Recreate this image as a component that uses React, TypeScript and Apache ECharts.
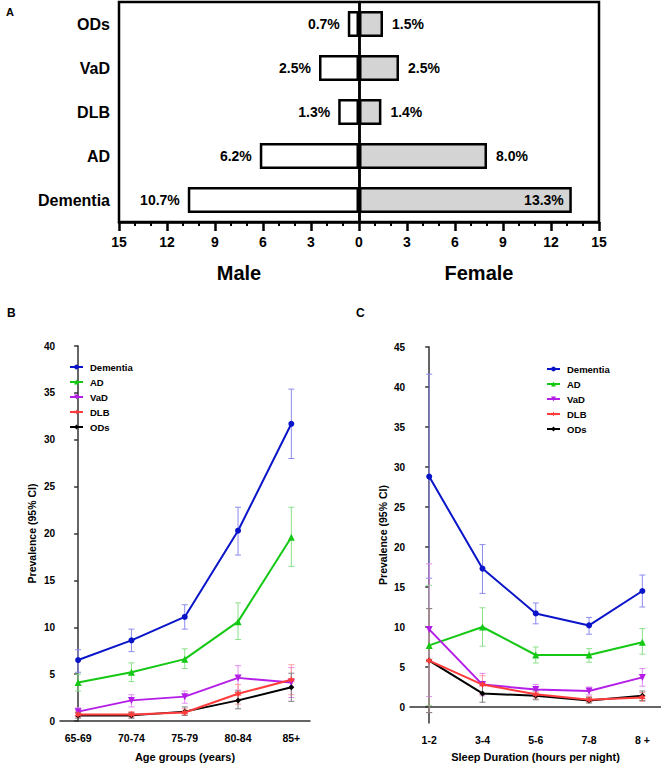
import React, { useEffect, useRef } from "react";
import * as echarts from "echarts";

// Panel A
const aCategories = ["Dementia", "AD", "DLB", "VaD", "ODs"];
const aMale = [10.7, 6.2, 1.3, 2.5, 0.7];
const aFemale = [13.3, 8.0, 1.4, 2.5, 1.5];

// Panel B
const bCategories = ["65-69", "70-74", "75-79", "80-84", "85+"];
const bDementia = [6.5, 8.6, 11.1, 20.3, 31.7];
const bDementiaLo = [5.2, 7.4, 9.8, 17.7, 28.0];
const bDementiaHi = [7.6, 9.8, 12.4, 22.8, 35.4];
const bAD = [4.1, 5.2, 6.6, 10.6, 19.6];
const bADLo = [3.2, 4.2, 5.6, 8.7, 16.5];
const bADHi = [5.0, 6.2, 7.7, 12.6, 22.8];
const bVaD = [1.0, 2.2, 2.6, 4.6, 4.1];
const bVaDLo = [0.5, 1.5, 1.9, 3.3, 2.5];
const bVaDHi = [1.4, 2.8, 3.2, 5.9, 5.7];
const bDLB = [0.7, 0.7, 0.9, 2.9, 4.4];
const bDLBLo = [0.4, 0.4, 0.6, 1.8, 2.8];
const bDLBHi = [1.0, 1.0, 1.3, 3.9, 6.0];
const bODs = [0.6, 0.6, 1.0, 2.2, 3.6];
const bODsLo = [0.3, 0.3, 0.6, 1.3, 2.1];
const bODsHi = [0.9, 0.9, 1.5, 3.2, 5.1];

// Panel C
const cCategories = ["1-2", "3-4", "5-6", "7-8", "8 +"];
const cDementia = [28.8, 17.3, 11.7, 10.2, 14.5];
const cDementiaLo = [16.1, 14.2, 10.4, 9.1, 12.5];
const cDementiaHi = [41.6, 20.3, 13.0, 11.2, 16.5];
const cAD = [7.7, 10.0, 6.5, 6.5, 8.1];
const cADLo = [0.2, 7.6, 5.5, 5.6, 6.6];
const cADHi = [15.2, 12.4, 7.5, 7.3, 9.8];
const cVaD = [9.7, 2.8, 2.2, 2.0, 3.7];
const cVaDLo = [1.3, 1.4, 1.6, 1.5, 2.6];
const cVaDHi = [17.9, 4.2, 2.8, 2.5, 4.8];
const cDLB = [5.8, 2.8, 1.6, 0.9, 1.2];
const cDLBLo = [-0.7, 1.6, 1.1, 0.6, 0.7];
const cDLBHi = [12.3, 3.9, 2.1, 1.3, 1.8];
const cODs = [5.8, 1.7, 1.4, 0.8, 1.4];
const cODsLo = [-0.7, 0.6, 0.9, 0.5, 0.8];
const cODsHi = [12.3, 2.8, 2.0, 1.2, 2.0];

const seriesNames = ["Dementia", "AD", "VaD", "DLB", "ODs"];
const lineColors = ["#0a14c8", "#14c814", "#b41ee6", "#ff3c3c", "#000000"];
const barColors = ["#8c8cf0", "#8ce08c", "#e08cf0", "#ff9c9c", "#808080"];

const FONT = "'Liberation Sans', Arial, Helvetica, sans-serif";

const STAR =
  "path://M0,-10 L2.6,-4.5 L8.7,-5 L5.2,0 L8.7,5 L2.6,4.5 L0,10 L-2.6,4.5 L-8.7,5 L-5.2,0 L-8.7,-5 L-2.6,-4.5 Z";
const symbols = ["circle", "triangle", "triangle", STAR, "diamond"];
const symbolSizes = [6, 7, 7, 7, 6];
const symbolRotates = [0, 0, 180, 0, 0];

export default function App() {
  const ref = useRef<HTMLDivElement>(null);

  useEffect(() => {
    if (!ref.current) return;
    const chart = echarts.init(ref.current, null, { renderer: "svg" });

    const bData = [
      [bDementia, bDementiaLo, bDementiaHi],
      [bAD, bADLo, bADHi],
      [bVaD, bVaDLo, bVaDHi],
      [bDLB, bDLBLo, bDLBHi],
      [bODs, bODsLo, bODsHi],
    ];
    const cData = [
      [cDementia, cDementiaLo, cDementiaHi],
      [cAD, cADLo, cADHi],
      [cVaD, cVaDLo, cVaDHi],
      [cDLB, cDLBLo, cDLBHi],
      [cODs, cODsLo, cODsHi],
    ];

    const errSeries = (panel: any[][], axisIdx: number) =>
      panel.map((d, i) => ({
        type: "custom",
        xAxisIndex: axisIdx,
        yAxisIndex: axisIdx,
        silent: true,
        z: 1,
        data: d[0].map((_: number, k: number) => [k, d[1][k], d[2][k]]),
        encode: { x: 0, y: [1, 2] },
        renderItem: (params: any, api: any) => {
          const x = api.value(0);
          const pHi = api.coord([x, api.value(2)]);
          const pLo = api.coord([x, api.value(1)]);
          const w = 3;
          const st = { stroke: barColors[i], lineWidth: 1 };
          return {
            type: "group",
            children: [
              { type: "line", shape: { x1: pHi[0], y1: pHi[1], x2: pLo[0], y2: pLo[1] }, style: st },
              { type: "line", shape: { x1: pHi[0] - w, y1: pHi[1], x2: pHi[0] + w, y2: pHi[1] }, style: st },
              { type: "line", shape: { x1: pLo[0] - w, y1: pLo[1], x2: pLo[0] + w, y2: pLo[1] }, style: st },
            ],
          };
        },
      }));

    const lineSeries = (panel: any[][], axisIdx: number) =>
      panel.map((d, i) => ({
        type: "line",
        name: seriesNames[i],
        xAxisIndex: axisIdx,
        yAxisIndex: axisIdx,
        z: 3 + (i === 3 ? 1 : 0),
        data: d[0].map((v: number, k: number) => [k, v]),
        symbol: symbols[i],
        symbolSize: symbolSizes[i],
        symbolRotate: symbolRotates[i],
        lineStyle: { color: lineColors[i], width: 2 },
        itemStyle: { color: lineColors[i] },
      }));

    const lineAxisCommon = {
      axisLine: { show: true, lineStyle: { color: "#333", width: 1.5 } },
      splitLine: { show: false },
    };

    const legendCommon = {
      orient: "vertical",
      itemWidth: 13,
      itemHeight: 6,
      itemGap: 5,
      data: seriesNames,
      textStyle: { fontSize: 9.5, fontWeight: "bold", color: "#000", padding: [0, 0, 0, 2] },
      selectedMode: false,
    };

    const option: any = {
      animation: false,
      textStyle: { fontFamily: FONT },
      grid: [
        { left: 119, top: 2, width: 480, height: 220, show: true, borderColor: "#000", borderWidth: 2.5 },
        { left: 60, top: 346, width: 250, height: 384 },
        { left: 410, top: 347, width: 251, height: 386 },
      ],
      xAxis: [
        {
          gridIndex: 0,
          type: "value",
          min: -15,
          max: 15,
          interval: 3,
          axisLine: { show: true, onZero: false, lineStyle: { color: "#000", width: 2.5 } },
          axisTick: { show: true, length: 9, lineStyle: { color: "#000", width: 2.5 } },
          minorTick: { show: true, splitNumber: 3, length: 4, lineStyle: { color: "#000", width: 2 } },
          splitLine: { show: false },
          minorSplitLine: { show: false },
          axisLabel: {
            formatter: (v: number) => String(Math.abs(v)),
            fontSize: 14,
            fontWeight: "bold",
            color: "#000",
            margin: 13,
          },
        },
        {
          gridIndex: 1,
          type: "value",
          min: -0.34,
          max: 4.35,
          ...lineAxisCommon,
          axisTick: { show: false },
          axisLabel: {
            customValues: [0, 1, 2, 3, 4],
            formatter: (v: number) => bCategories[Math.round(v)],
            fontSize: 10.5,
            fontWeight: "bold",
            color: "#000",
            margin: 11,
          },
          name: "Age groups (years)",
          nameLocation: "middle",
          nameGap: 30,
          nameTextStyle: { fontSize: 11, fontWeight: "bold", color: "#000" },
        },
        {
          gridIndex: 2,
          type: "value",
          min: -0.36,
          max: 4.35,
          ...lineAxisCommon,
          axisTick: { show: false },
          axisLabel: {
            customValues: [0, 1, 2, 3, 4],
            formatter: (v: number) => cCategories[Math.round(v)],
            fontSize: 10.5,
            fontWeight: "bold",
            color: "#000",
            margin: 11,
          },
          name: "Sleep Duration (hours per night)",
          nameLocation: "middle",
          nameGap: 28,
          nameTextStyle: { fontSize: 11, fontWeight: "bold", color: "#000" },
        },
      ],
      yAxis: [
        {
          gridIndex: 0,
          type: "category",
          data: aCategories,
          axisLine: { show: true, lineStyle: { color: "#000", width: 2.5 } },
          axisTick: { show: true, alignWithLabel: true, length: 6, lineStyle: { color: "#000", width: 2.5 } },
          axisLabel: { fontSize: 16, fontWeight: "bold", color: "#000", margin: 9 },
        },
        {
          gridIndex: 1,
          type: "value",
          min: 0,
          max: 40,
          interval: 5,
          ...lineAxisCommon,
          axisTick: { show: true, length: 4, lineStyle: { color: "#333", width: 1.5 } },
          axisLabel: { fontSize: 10, fontWeight: "bold", color: "#000", margin: 5 },
          name: "Prevalence (95% CI)",
          nameLocation: "middle",
          nameRotate: 90,
          nameGap: 23,
          nameTextStyle: { fontSize: 10.5, fontWeight: "bold", color: "#000" },
        },
        {
          gridIndex: 2,
          type: "value",
          min: -2,
          max: 45,
          ...lineAxisCommon,
          axisTick: {
            show: true,
            length: 4,
            customValues: [0, 5, 10, 15, 20, 25, 30, 35, 40, 45],
            lineStyle: { color: "#333", width: 1.5 },
          },
          axisLabel: {
            customValues: [0, 5, 10, 15, 20, 25, 30, 35, 40, 45],
            fontSize: 10,
            fontWeight: "bold",
            color: "#000",
            margin: 5,
          },
          name: "Prevalence (95% CI)",
          nameLocation: "middle",
          nameRotate: 90,
          nameGap: 22,
          nameTextStyle: { fontSize: 10.5, fontWeight: "bold", color: "#000" },
        },
      ],
      legend: [
        { ...legendCommon, left: 64, top: 357 },
        { ...legendCommon, left: 541, top: 359 },
      ],
      graphic: [
        { type: "text", left: 6, top: 6, style: { text: "A", fontSize: 11, fontWeight: "bold", fill: "#000", fontFamily: FONT } },
        { type: "text", left: 7, top: 307, style: { text: "B", fontSize: 12, fontWeight: "bold", fill: "#000", fontFamily: FONT } },
        { type: "text", left: 356, top: 307, style: { text: "C", fontSize: 12, fontWeight: "bold", fill: "#000", fontFamily: FONT } },
        {
          type: "text",
          x: 239,
          y: 273,
          style: { text: "Male", fontSize: 20, fontWeight: "bold", fill: "#000", fontFamily: FONT, align: "center", verticalAlign: "middle" },
        },
        {
          type: "text",
          x: 479,
          y: 273,
          style: { text: "Female", fontSize: 20, fontWeight: "bold", fill: "#000", fontFamily: FONT, align: "center", verticalAlign: "middle" },
        },
      ],
      series: [
        {
          type: "bar",
          name: "Male",
          xAxisIndex: 0,
          yAxisIndex: 0,
          stack: "sex",
          barWidth: 26,
          data: aMale.map((v) => -v),
          itemStyle: { color: "#ffffff", borderColor: "#000", borderWidth: 2.5 },
          label: {
            show: true,
            position: "left",
            distance: 8,
            formatter: (p: any) => Math.abs(p.value).toFixed(1) + "%",
            fontSize: 14,
            fontWeight: "bold",
            color: "#000",
          },
        },
        {
          type: "bar",
          name: "Female",
          xAxisIndex: 0,
          yAxisIndex: 0,
          stack: "sex",
          barWidth: 26,
          data: aFemale.map((v, i) =>
            i === 0 ? { value: v, label: { position: "insideRight", distance: 8 } } : v
          ),
          itemStyle: { color: "#d4d4d4", borderColor: "#000", borderWidth: 2.5 },
          label: {
            show: true,
            position: "right",
            distance: 9,
            formatter: (p: any) => Number(p.value).toFixed(1) + "%",
            fontSize: 14,
            fontWeight: "bold",
            color: "#000",
          },
          markLine: {
            silent: true,
            symbol: ["none", "none"],
            label: { show: false },
            lineStyle: { color: "#000", width: 2.5, type: "solid" },
            data: [{ xAxis: 0 }],
          },
        },
        ...errSeries(bData, 1),
        ...lineSeries(bData, 1),
        ...errSeries(cData, 2),
        ...lineSeries(cData, 2),
      ],
    };

    chart.setOption(option);
    return () => chart.dispose();
  }, []);

  return <div ref={ref} style={{ width: 661, height: 767, position: "absolute", left: 0, top: 0, background: "#fff" }} />;
}
